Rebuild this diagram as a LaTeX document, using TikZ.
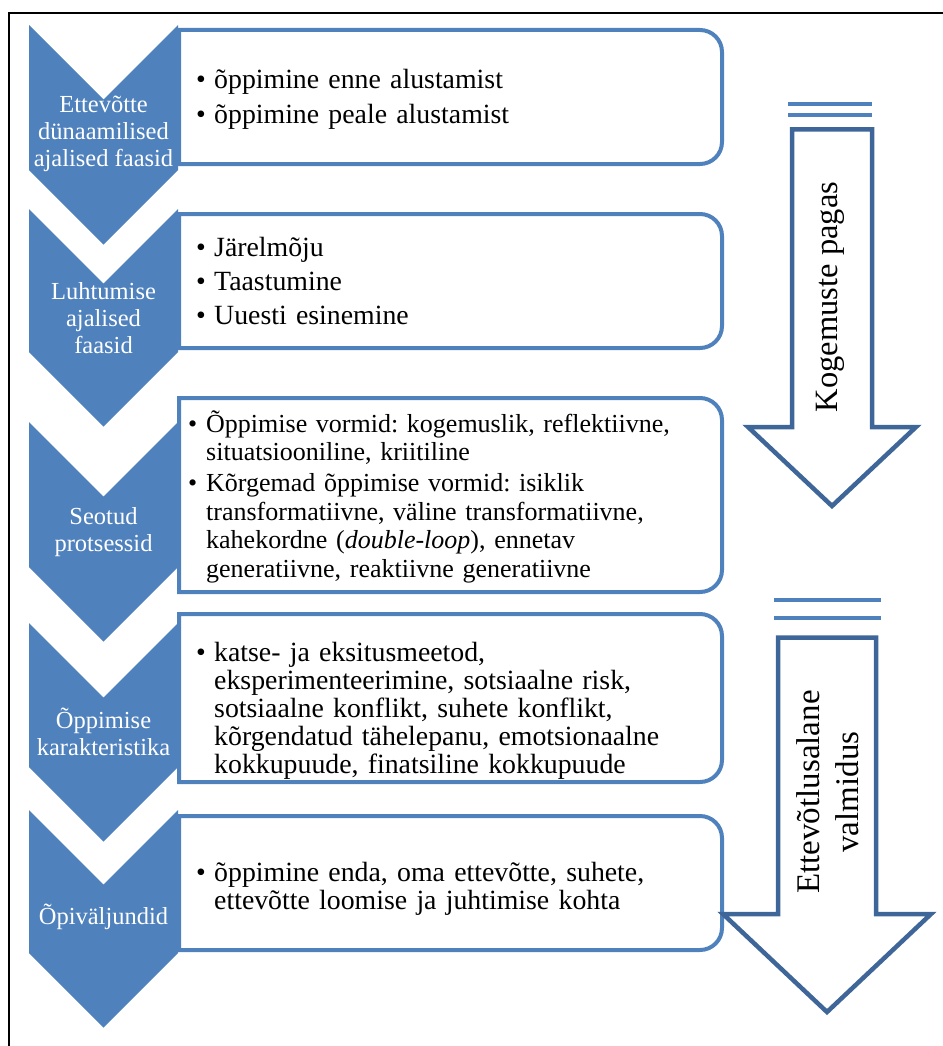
\documentclass[tikz,border=0pt]{standalone}
\usepackage{fontspec}
\setmainfont{Liberation Serif}
\definecolor{chev}{HTML}{4F81BD}
\definecolor{arr}{HTML}{3F6698}
\newenvironment{blist}[1]{\list{\makebox[18pt][l]{\textbullet}}{%
  \setlength{\leftmargin}{18pt}\setlength{\labelwidth}{18pt}\setlength{\labelsep}{0pt}%
  \setlength{\itemindent}{0pt}\setlength{\itemsep}{#1}\setlength{\parsep}{0pt}%
  \setlength{\topsep}{0pt}\setlength{\partopsep}{0pt}\setlength{\rightmargin}{0pt}}\raggedright\frenchspacing}{\endlist}
\tikzset{
  chevfill/.style={fill=chev},
  chevtext/.style={text=white, align=center, font=\fontsize{24.5}{27}\selectfont, inner sep=0pt},
  boxframe/.style={draw=chev, line width=4pt, fill=white},
  boxtext/.style 2 args={anchor=west, inner sep=0pt, text width=540pt,
    font=\fontsize{#1}{#2}\selectfont},
  bigarrow/.style={draw=arr, line width=4.5pt, line join=miter},
  topline/.style={draw=chev, line width=4pt},
  sidetext/.style={rotate=90, align=center, inner sep=0pt},
  frame/.style={draw=black, line width=2pt},
}
\begin{document}
\begin{tikzpicture}[x=1pt,y=-1pt]
\useasboundingbox (0,0) rectangle (942,1046);
% outer frame (only top and left visible)
\draw[frame] (9,1060) -- (9,13) -- (960,13);

% chevrons: top, body bottom
\foreach \t/\b in {25/170, 209/352, 422/567, 623/767, 810/953}{
  \fill[chevfill] (29,\t) -- (103.5,{\t+74.5}) -- (178,\t) -- (178,\b) -- (103.5,{\b+74.5}) -- (29,\b) -- cycle;
}

% boxes: top, bottom
\foreach \t/\b in {30/164, 214/348, 398/592, 614/782, 816/950}{
  \draw[boxframe] (179,\t) -- (700,\t) arc[start angle=90,end angle=0,radius=22pt]
     -- (722,{\b-22}) arc[start angle=0,end angle=-90,radius=22pt] -- (179,\b) -- cycle;
}

% chevron labels
\node[chevtext] (c1) at (103.5,134) {Ettevõtte\\dünaamilised\\ajalised faasid};
\node[chevtext] (c2) at (103.5,318) {Luhtumise\\ajalised\\faasid};
\node[chevtext] (c3) at (103.5,532) {Seotud\\protsessid};
\node[chevtext] (c4) at (103.5,732) {Õppimise\\karakteristika};
\node[chevtext] (c5) at (103.5,917) {Õpiväljundid};

% box texts
\node[boxtext={27.8}{28}] (b1) at (196,95) {\begin{blist}{7pt}\item õppimine enne alustamist\item õppimine peale alustamist\end{blist}};
\node[boxtext={27.8}{28}] (b2) at (196,277) {\begin{blist}{6pt}\item Järelmõju\item Taastumine\item Uuesti esinemine\end{blist}};
\node[boxtext={26}{28.5}] (b3) at (188,493.5) {\begin{blist}{2.5pt}\item Õppimise vormid: kogemuslik, reflektiivne,\\ situatsiooniline, kriitiline
  \item Kõrgemad õppimise vormid: isiklik\\ transformatiivne, väline transformatiivne,\\ kahekordne (\textit{double-loop}), ennetav\\ generatiivne, reaktiivne generatiivne\end{blist}};
\node[boxtext={27.8}{28}] (b4) at (196,706) {\begin{blist}{0pt}\item katse- ja eksitusmeetod,\\ eksperimenteerimine, sotsiaalne risk,\\ sotsiaalne konflikt, suhete konflikt,\\ kõrgendatud tähelepanu, emotsionaalne\\ kokkupuude, finatsiline kokkupuude\end{blist}};
\node[boxtext={27.8}{28}] (b5) at (196,884) {\begin{blist}{0pt}\item õppimine enda, oma ettevõtte, suhete,\\ ettevõtte loomise ja juhtimise kohta\end{blist}};

% big arrow 1
\draw[topline] (788,104) -- (872,104);
\draw[topline] (788,115.5) -- (872,115.5);
\draw[bigarrow] (792,129.5) -- (872,129.5) -- (872,427) -- (916,427) -- (832,506) -- (748,427) -- (792,427) -- cycle;
\node[sidetext, font=\fontsize{32.5}{38}\selectfont] (k1) at (830,297) {Kogemuste pagas};

% big arrow 2
\draw[topline] (774,600) -- (881,600);
\draw[topline] (774,618) -- (881,618);
\draw[bigarrow] (778,637.5) -- (876,637.5) -- (876,914) -- (931,914) -- (827,1012) -- (723,914) -- (778,914) -- cycle;
\node[sidetext, font=\fontsize{33}{39}\selectfont] (k2) at (827.5,792) {Ettevõtlusalane\\valmidus};
\end{tikzpicture}
\end{document}
